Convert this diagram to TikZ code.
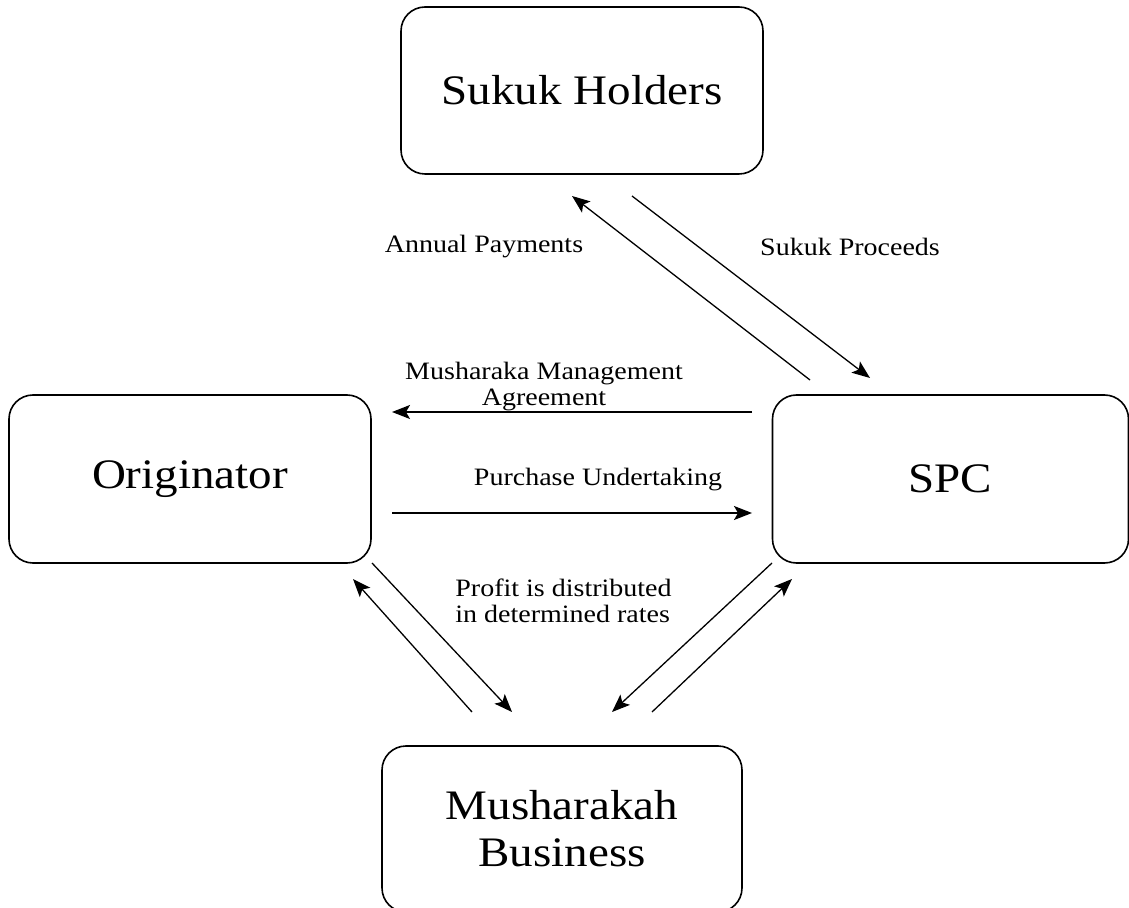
\documentclass[tikz,border=0pt]{standalone}
\usepackage{fontspec}
\setmainfont{Liberation Serif}[FakeStretch=1.12]
\usetikzlibrary{arrows.meta}
\begin{document}
\begin{tikzpicture}[x=0.5pt,y=-0.5pt,
  party/.style={draw, line width=0.8pt, rounded corners=12pt, align=center,
    font=\fontsize{21}{23.5}\selectfont, inner sep=0pt},
  flow/.style={line width=0.65pt, -{Stealth[length=9pt,width=7pt,inset=2pt]}},
  lbl/.style={font=\fontsize{12.5}{13}\selectfont, inner sep=0pt}]
\useasboundingbox (0,0) rectangle (1129,908);

% parties
\node[party, minimum width=181pt, minimum height=83.5pt] (holders) at (582,90.5) {Sukuk Holders};
\node[party, minimum width=181pt, minimum height=84pt] (orig) at (190,479) {Originator};
\node[party, minimum width=178pt, minimum height=84pt] (spc) at (950.5,479) {SPC};
\node[party, minimum width=180pt, minimum height=83pt] (bus) at (562,829) {Musharakah\\Business};

% connector end points
\coordinate (ap-s) at (810,380);  \coordinate (ap-e) at (572,196);
\coordinate (sp-s) at (632,196);  \coordinate (sp-e) at (870,378);
\coordinate (mm-s) at (752,412);  \coordinate (mm-e) at (392,412);
\coordinate (pu-s) at (392,513);  \coordinate (pu-e) at (752,513);
\coordinate (ob-s) at (372,563);  \coordinate (ob-e) at (512,712);
\coordinate (bo-s) at (472,712);  \coordinate (bo-e) at (353,579);
\coordinate (sb-s) at (772,563);  \coordinate (sb-e) at (612,712);
\coordinate (bs-s) at (652,712);  \coordinate (bs-e) at (792,579);

% flows
\draw[flow] (ap-s) -- (ap-e);
\draw[flow] (sp-s) -- (sp-e);
\draw[flow] (mm-s) -- (mm-e);
\draw[flow] (pu-s) -- (pu-e);
\draw[flow] (ob-s) -- (ob-e);
\draw[flow] (bo-s) -- (bo-e);
\draw[flow] (sb-s) -- (sb-e);
\draw[flow] (bs-s) -- (bs-e);

% labels
\node[lbl] (l-ap) at (484,247) {Annual Payments};
\node[lbl] (l-sp) at (850,247) {Sukuk Proceeds};
\node[lbl, align=center] (l-mm) at (544,387) {Musharaka Management\\Agreement};
\node[lbl] (l-pu) at (598,480) {Purchase Undertaking};
\node[lbl, align=left, anchor=west] (l-pr) at (455,601) {Profit is distributed\\in determined rates};
\end{tikzpicture}
\end{document}
